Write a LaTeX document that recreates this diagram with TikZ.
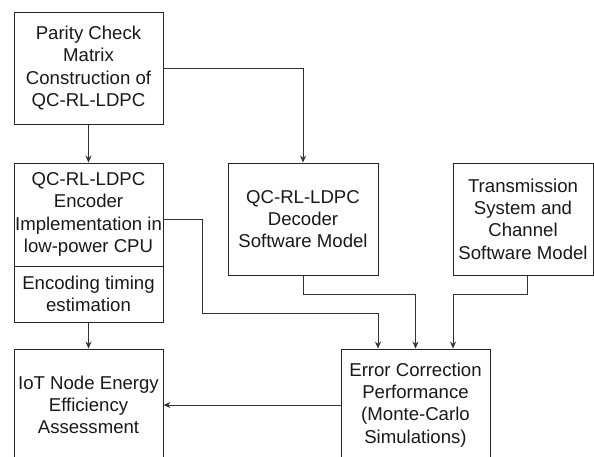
\documentclass[tikz,border=0pt]{standalone}
\usepackage{fontspec}
\setmainfont{Liberation Sans}
\usetikzlibrary{arrows.meta,calc}
\begin{document}
\begin{tikzpicture}[x=1pt,y=-1pt,
  box/.style={draw=black!85,line width=0.9pt,rectangle,inner sep=0pt,align=center,
    font=\fontsize{18.6}{22.3}\selectfont,text=black!90},
  conn/.style={draw=black!80,line width=0.9pt,-{Stealth[length=7pt,width=6pt]}}]
\useasboundingbox (0,0) rectangle (594,456);
\node[box,minimum width=149pt,minimum height=112pt] (pcm) at (88.5,68) {Parity Check\\Matrix\\Construction of\\QC-RL-LDPC};
\node[box,minimum width=149pt,minimum height=103pt] (enc) at (88.5,214.5) {QC-RL-LDPC\\Encoder\\Implementation in\\low-power CPU};
\node[box,minimum width=149pt,minimum height=56pt] (tim) at (88.5,294) {Encoding timing\\estimation};
\node[box,minimum width=150pt,minimum height=112pt] (dec) at (303,219) {QC-RL-LDPC\\Decoder\\Software Model};
\node[box,minimum width=140pt,minimum height=112pt] (trs) at (523,219) {Transmission\\System and\\Channel\\Software Model};
\node[box,minimum width=149pt,minimum height=112pt] (iot) at (88.5,405) {IoT Node Energy\\Efficiency\\Assessment};
\node[box,minimum width=149pt,minimum height=112pt] (ecp) at (415.5,405) {Error Correction\\Performance\\(Monte-Carlo\\Simulations)};
\draw[conn] (pcm.south) -- (enc.north);
\draw[conn] (pcm.east) -| (dec.north);
\draw[conn] (tim.south) -- (iot.north);
\coordinate (encout) at (163,219);
\draw[conn] (encout) -- (202,219) -- (202,313) -| ($(ecp.north)+(-37.5,0)$);
\draw[conn] (dec.south) -- (303,294) -| ($(ecp.north)+(0,0)$);
\draw[conn] ($(trs.south)+(4,0)$) -- (527,294) -| ($(ecp.north)+(37.5,0)$);
\draw[conn] (ecp.west) -- (iot.east);
\end{tikzpicture}
\end{document}
